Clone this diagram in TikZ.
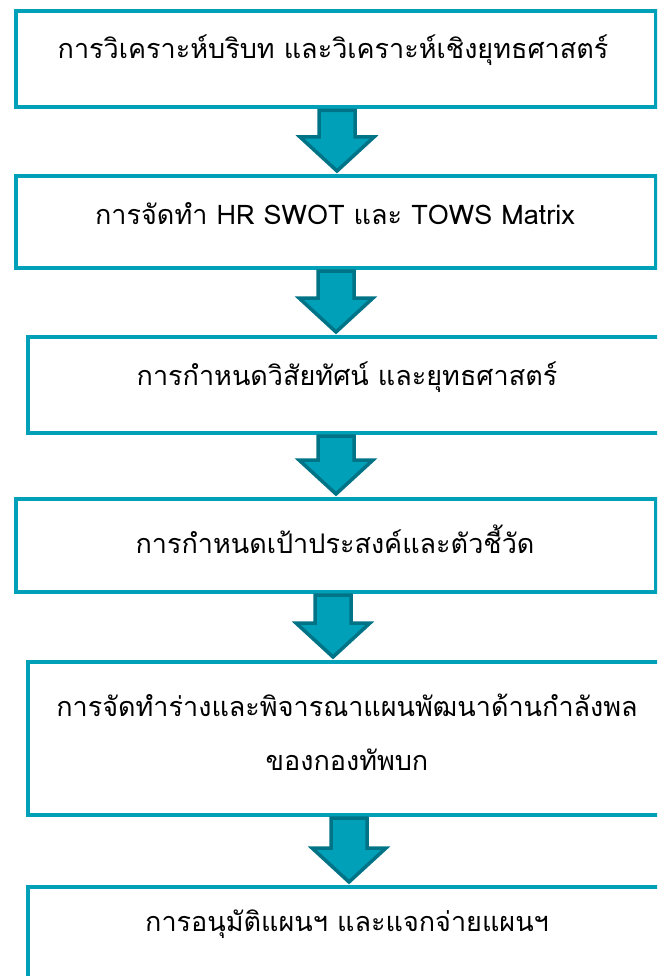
\documentclass[tikz,border=0pt]{standalone}
\usepackage{fontspec}
\newfontfamily\thaifont[Script=Thai]{Loma}
\usetikzlibrary{calc}
\definecolor{boxline}{RGB}{0,161,184}
\definecolor{arrfill}{RGB}{0,160,184}
\definecolor{arrline}{RGB}{0,116,134}
\tikzset{
  stepbox/.style={draw=boxline, line width=4pt, fill=white, rectangle, inner sep=0pt, anchor=north west},
  steptext/.style={font=\thaifont\fontsize{27}{54}\selectfont, inner sep=0pt, align=center, text=black},
  blockarrow/.style={draw=arrline, fill=arrfill, line width=3.5pt, line join=miter}
}
% #1 from node, #2 to node, #3 x of the arrow axis
\newcommand\flowarrow[3]{%
  \draw[blockarrow] let \p1=(#1.south), \p2=(#2.north) in
    (#3-18,\y1-1) -- (#3+18,\y1-1) -- (#3+18,\y2+37) -- (#3+37,\y2+37)
    -- (#3,\y2+3) -- (#3-37,\y2+37) -- (#3-18,\y2+37) -- cycle;}
\begin{document}
\begin{tikzpicture}[x=1pt,y=1pt]
\useasboundingbox (0,0) rectangle (657,-976);
\clip (0,0) rectangle (657,-976);
\node[stepbox, minimum width=640pt, minimum height=96pt] (b1) at (14,-9.5) {};
\node[stepbox, minimum width=640pt, minimum height=92pt] (b2) at (14,-174) {};
\node[stepbox, minimum width=650pt, minimum height=96pt] (b3) at (26,-335) {};
\node[stepbox, minimum width=640pt, minimum height=93pt] (b4) at (14,-497) {};
\node[stepbox, minimum width=650pt, minimum height=153pt] (b5) at (26,-660) {};
\node[stepbox, minimum width=650pt, minimum height=110pt] (b6) at (26,-885) {};

\node[steptext] (t1) at (333,-50) {การวิเคราะห์บริบท และวิเคราะห์เชิงยุทธศาสตร์};
\node[steptext] (t2) at (335,-214) {การจัดทำ HR SWOT และ TOWS Matrix};
\node[steptext] (t3) at (347,-377) {การกำหนดวิสัยทัศน์ และยุทธศาสตร์};
\node[steptext] (t4) at (335,-539) {การกำหนดเป้าประสงค์และตัวชี้วัด};
\node[steptext] (t5) at (347,-732) {การจัดทำร่างและพิจารณาแผนพัฒนาด้านกำลังพล\\ของกองทัพบก};
\node[steptext] (t6) at (347,-924) {การอนุมัติแผนฯ และแจกจ่ายแผนฯ};

\flowarrow{b1}{b2}{337}
\flowarrow{b2}{b3}{336}
\flowarrow{b3}{b4}{336}
\flowarrow{b4}{b5}{333}
\flowarrow{b5}{b6}{349}
\end{tikzpicture}
\end{document}
